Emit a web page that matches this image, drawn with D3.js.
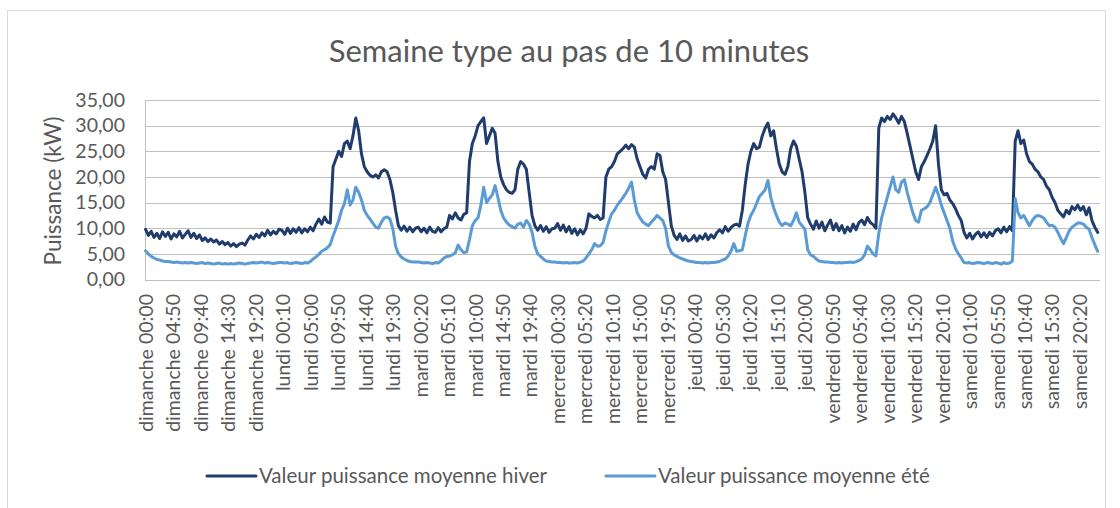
<!DOCTYPE html>
<html>
<head>
<meta charset="utf-8">
<script src="https://cdn.jsdelivr.net/npm/d3@7"></script>
<style>
  html, body { margin: 0; padding: 0; background: #fff; }
  svg { display: block; font-family: Lato, "Noto Sans", sans-serif; }
</style>
</head>
<body>
<svg id="chart" width="1120" height="508"></svg>
<script>
// Semaine type, one value every 30 min (48 per day), days from dimanche to samedi
const jours = ['dimanche', 'lundi', 'mardi', 'mercredi', 'jeudi', 'vendredi', 'samedi'];

const hiver = [
  // dimanche
  9.8, 8.6, 9.4, 8.2, 9.0, 8.0, 9.3, 8.4, 9.2, 7.9, 8.9, 8.3, 9.4, 8.1, 8.8, 9.5, 8.2, 9.0, 8.0, 8.7, 7.6, 8.1, 7.4, 7.9,
  7.3, 7.7, 6.9, 7.4, 6.8, 7.2, 6.5, 7.0, 6.4, 6.9, 7.1, 6.7, 7.7, 8.5, 7.9, 8.8, 8.2, 9.1, 8.5, 9.6, 8.7, 9.4, 8.9, 9.8,
  // lundi
  9.6, 8.8, 10.0, 9.0, 9.9, 9.2, 10.1, 9.1, 9.9, 9.3, 10.2, 9.5, 10.8, 11.8, 10.8, 12.2, 11.2, 11.0, 22.0, 23.5, 25.0, 24.0, 26.5, 27.0,
  25.5, 28.0, 31.5, 29.0, 24.5, 22.0, 21.0, 20.3, 20.0, 20.4, 19.8, 21.0, 21.4, 21.0, 19.5, 17.0, 13.5, 10.5, 9.6, 10.4, 9.4, 10.2, 9.3, 10.0,
  // mardi
  10.2, 9.3, 10.0, 9.1, 10.2, 9.4, 9.2, 10.1, 9.3, 9.9, 10.2, 12.5, 11.8, 13.0, 12.0, 11.6, 12.7, 13.0, 23.0, 26.5, 28.0, 30.0, 30.8, 31.5,
  26.5, 28.0, 29.5, 28.5, 23.0, 20.0, 18.5, 17.5, 17.0, 16.8, 17.5, 21.5, 23.0, 22.5, 21.5, 17.0, 12.5, 10.5, 9.6, 10.5, 9.4, 10.3, 9.2, 9.9,
  // mercredi
  10.0, 10.9, 9.6, 10.6, 9.3, 10.3, 9.0, 9.9, 8.7, 9.7, 8.9, 10.0, 12.8, 12.3, 12.0, 12.5, 11.7, 12.0, 20.0, 21.5, 22.0, 23.0, 24.5, 25.0,
  25.5, 26.2, 25.5, 26.3, 25.8, 23.5, 22.0, 20.5, 19.8, 21.5, 22.0, 21.5, 24.5, 24.2, 21.0, 19.5, 15.0, 10.5, 8.6, 7.8, 8.9, 7.6, 8.5, 7.5,
  // jeudi
  7.8, 8.6, 7.5, 8.5, 7.9, 8.9, 7.8, 8.7, 8.1, 9.1, 9.7, 9.1, 10.3, 9.4, 10.1, 10.6, 10.8, 10.4, 13.5, 18.5, 22.5, 25.0, 26.5, 25.5,
  25.8, 28.0, 29.5, 30.5, 28.0, 29.0, 25.5, 22.5, 21.0, 20.5, 22.0, 25.5, 27.0, 26.0, 23.5, 21.0, 17.0, 12.0, 10.8, 9.8, 11.4, 10.0, 11.2, 9.5,
  // vendredi
  10.6, 11.6, 9.7, 10.9, 9.5, 10.5, 9.1, 10.2, 9.4, 10.8, 9.7, 11.1, 11.6, 10.7, 12.1, 11.1, 10.7, 10.0, 29.5, 31.5, 30.8, 31.8, 31.2, 32.3,
  31.5, 30.5, 31.8, 30.8, 28.5, 26.0, 23.5, 21.0, 19.5, 22.0, 23.0, 24.2, 25.5, 27.0, 30.0, 22.5, 17.5, 16.5, 16.8, 15.5, 14.8, 13.8, 12.5, 11.5,
  // samedi
  9.2, 8.1, 9.0, 7.9, 8.8, 9.3, 8.3, 9.1, 8.2, 9.2, 8.5, 9.5, 9.9, 9.1, 10.2, 9.3, 10.3, 9.5, 27.0, 29.0, 26.5, 27.2, 24.5, 23.0,
  22.5, 21.5, 21.0, 20.0, 19.5, 18.2, 17.5, 16.0, 15.0, 13.5, 12.8, 12.2, 13.5, 12.8, 14.2, 13.6, 14.5, 13.5, 14.2, 12.6, 14.0, 11.5, 10.2, 9.2
];

const ete = [
  // dimanche
  5.6, 5.0, 4.5, 4.2, 3.9, 3.8, 3.6, 3.5, 3.5, 3.4, 3.3, 3.4, 3.3, 3.2, 3.3, 3.2, 3.3, 3.2, 3.1, 3.2, 3.3, 3.1, 3.2, 3.1,
  3.0, 3.1, 3.2, 3.0, 3.1, 3.0, 3.1, 3.0, 3.1, 3.2, 3.1, 3.0, 3.1, 3.2, 3.3, 3.2, 3.3, 3.4, 3.2, 3.3, 3.2, 3.1, 3.2, 3.3,
  // lundi
  3.3, 3.2, 3.3, 3.1, 3.2, 3.3, 3.2, 3.1, 3.3, 3.2, 3.5, 4.0, 4.4, 4.9, 5.5, 5.8, 6.2, 6.8, 8.5, 10.0, 11.5, 13.5, 14.8, 17.5,
  14.5, 15.5, 18.0, 17.0, 15.5, 13.5, 12.5, 11.8, 11.0, 10.2, 10.0, 11.2, 12.0, 12.2, 11.8, 10.0, 6.5, 5.0, 4.4, 4.0, 3.7, 3.5, 3.4, 3.4,
  // mardi
  3.4, 3.3, 3.2, 3.3, 3.2, 3.1, 3.3, 3.2, 3.6, 4.2, 4.5, 4.6, 4.8, 5.2, 6.7, 5.8, 5.2, 5.4, 7.8, 10.5, 11.5, 12.0, 14.5, 18.0,
  15.0, 15.8, 16.5, 18.3, 16.0, 13.5, 12.0, 11.2, 10.6, 10.3, 10.0, 10.8, 11.0, 10.2, 11.5, 10.8, 9.2, 6.5, 5.0, 4.5, 4.0, 3.6, 3.5, 3.4,
  // mercredi
  3.4, 3.3, 3.3, 3.2, 3.3, 3.2, 3.2, 3.3, 3.2, 3.4, 3.6, 4.2, 5.0, 5.8, 7.0, 6.5, 6.6, 7.2, 9.5, 11.2, 12.8, 13.5, 14.5, 15.2,
  16.0, 16.8, 17.8, 19.0, 15.5, 13.0, 12.0, 11.2, 10.8, 10.5, 11.2, 11.8, 12.5, 12.0, 11.5, 10.0, 6.5, 5.3, 4.8, 4.5, 4.2, 4.0, 3.8, 3.6,
  // jeudi
  3.5, 3.4, 3.3, 3.3, 3.2, 3.3, 3.2, 3.3, 3.3, 3.4, 3.5, 3.8, 4.0, 4.6, 5.5, 7.0, 5.5, 5.6, 5.8, 8.5, 11.0, 12.5, 13.5, 14.8,
  16.2, 16.8, 17.5, 19.3, 16.0, 14.0, 12.5, 11.2, 10.5, 11.0, 10.8, 10.5, 11.5, 13.0, 11.2, 10.5, 9.8, 5.8, 4.8, 4.5, 4.0, 3.6, 3.5, 3.4,
  // vendredi
  3.4, 3.3, 3.3, 3.2, 3.3, 3.2, 3.3, 3.3, 3.4, 3.3, 3.5, 3.7, 4.0, 4.8, 6.5, 5.8, 5.0, 4.6, 9.0, 12.0, 14.0, 16.0, 18.0, 20.0,
  17.5, 17.0, 19.0, 19.5, 17.0, 15.0, 13.0, 11.5, 11.2, 13.5, 13.8, 14.2, 15.0, 16.5, 18.0, 16.5, 14.5, 13.0, 11.5, 10.0, 7.5, 6.0, 5.0, 4.2,
  // samedi
  3.3, 3.2, 3.3, 3.1, 3.2, 3.3, 3.2, 3.1, 3.3, 3.2, 3.1, 3.3, 3.2, 3.0, 3.3, 3.1, 3.2, 3.6, 15.8, 13.0, 12.0, 12.5, 11.5, 10.5,
  11.5, 12.2, 12.5, 12.3, 12.0, 11.2, 10.5, 10.6, 10.2, 9.2, 8.0, 7.0, 8.2, 9.5, 10.2, 10.6, 11.0, 11.0, 10.8, 10.2, 9.8, 8.2, 6.8, 5.5
];

// category labels shown on the axis (one every 29 steps of 10 min)
const tickLabels = [
  'dimanche 00:00', 'dimanche 04:50', 'dimanche 09:40', 'dimanche 14:30', 'dimanche 19:20',
  'lundi 00:10', 'lundi 05:00', 'lundi 09:50', 'lundi 14:40', 'lundi 19:30',
  'mardi 00:20', 'mardi 05:10', 'mardi 10:00', 'mardi 14:50', 'mardi 19:40',
  'mercredi 00:30', 'mercredi 05:20', 'mercredi 10:10', 'mercredi 15:00', 'mercredi 19:50',
  'jeudi 00:40', 'jeudi 05:30', 'jeudi 10:20', 'jeudi 15:10', 'jeudi 20:00',
  'vendredi 00:50', 'vendredi 05:40', 'vendredi 10:30', 'vendredi 15:20', 'vendredi 20:10',
  'samedi 01:00', 'samedi 05:50', 'samedi 10:40', 'samedi 15:30', 'samedi 20:20'
];
const yTicks = [0, 5, 10, 15, 20, 25, 30, 35];

const series = [
  { name: 'Valeur puissance moyenne hiver', values: hiver, color: '#203c6c' },
  { name: 'Valeur puissance moyenne été', values: ete, color: '#5B9BD5' }
];

const nCategories = 7 * 144;   // 10 minute steps over the week
const sampleStep = 3;          // values above are every 30 min
const labelStep = 29;

/** Layout */
const margin = { top: 100, right: 20, bottom: 228.5, left: 145 };
const width = 1120, height = 508;
const textColor = '#595959';

const svg = d3.select('#chart');

svg.append('rect')
  .attr('x', 7.5).attr('y', 10.5)
  .attr('width', 1098).attr('height', 510)
  .attr('fill', '#fff')
  .attr('stroke', '#d9d9d9');

const x = d3.scaleLinear()
  .domain([-0.5, nCategories - 0.5])
  .range([margin.left, width - margin.right]);

const y = d3.scaleLinear()
  .domain([0, 35])
  .range([height - margin.bottom, margin.top]);

// gridlines
svg.append('g')
  .selectAll('line')
  .data(yTicks)
  .enter()
  .append('line')
  .attr('x1', margin.left)
  .attr('x2', width - margin.right)
  .attr('y1', d => Math.round(y(d)) + 0.5)
  .attr('y2', d => Math.round(y(d)) + 0.5)
  .attr('stroke', '#c0c0c0')
  .attr('stroke-width', 1);

svg.append('line')
  .attr('x1', margin.left + 0.5).attr('x2', margin.left + 0.5)
  .attr('y1', y(35)).attr('y2', y(0))
  .attr('stroke', '#bfbfbf');

// y axis
const yAxis = svg.append('g')
  .attr('transform', `translate(${margin.left},0)`)
  .call(d3.axisLeft(y)
    .tickValues(yTicks)
    .tickSize(0)
    .tickPadding(20)
    .tickFormat(d => d3.format('.2f')(d).replace('.', ',')));
yAxis.select('.domain').remove();
yAxis.selectAll('text')
  .attr('fill', textColor)
  .style('font-family', 'Lato')
  .style('font-size', '19.5px');

// x axis, rotated category labels
const xAxis = svg.append('g')
  .attr('transform', `translate(0,${y(0)})`)
  .call(d3.axisBottom(x)
    .tickValues(tickLabels.map((d, i) => i * labelStep))
    .tickSize(0)
    .tickFormat((d, i) => tickLabels[i]));
xAxis.select('.domain').remove();
xAxis.selectAll('text')
  .attr('transform', 'rotate(-90)')
  .attr('x', -14.5)
  .attr('y', 0)
  .attr('dy', '0.35em')
  .style('text-anchor', 'end')
  .attr('fill', textColor)
  .style('font-family', 'Lato')
  .style('font-size', '19.5px');

// lines
const line = d3.line()
  .x((d, i) => x(i * sampleStep))
  .y(d => y(d));

svg.append('g')
  .selectAll('path')
  .data(series)
  .enter()
  .append('path')
  .attr('d', d => line(d.values))
  .attr('fill', 'none')
  .attr('stroke', d => d.color)
  .attr('stroke-width', 3)
  .attr('stroke-linejoin', 'round')
  .attr('stroke-linecap', 'round');

// title
svg.append('text')
  .attr('x', 569)
  .attr('y', 62)
  .attr('text-anchor', 'middle')
  .attr('fill', textColor)
  .style('font-size', '31px')
  .text('Semaine type au pas de 10 minutes');

// y axis title
svg.append('text')
  .attr('transform', 'translate(61,191) rotate(-90)')
  .attr('text-anchor', 'middle')
  .attr('fill', textColor)
  .style('font-size', '22.5px')
  .text('Puissance (kW)');

// legend
const legendX = [207, 606];
const legend = svg.append('g')
  .selectAll('g')
  .data(series)
  .enter()
  .append('g')
  .attr('transform', (d, i) => `translate(${legendX[i]},476)`);

legend.append('line')
  .attr('x1', 0).attr('x2', 49)
  .attr('y1', 0).attr('y2', 0)
  .attr('stroke', d => d.color)
  .attr('stroke-width', 3)
  .attr('stroke-linecap', 'round');

legend.append('text')
  .attr('x', 52)
  .attr('y', 0)
  .attr('dy', '0.35em')
  .attr('fill', textColor)
  .style('font-size', '20.5px')
  .text(d => d.name);
</script>
</body>
</html>
